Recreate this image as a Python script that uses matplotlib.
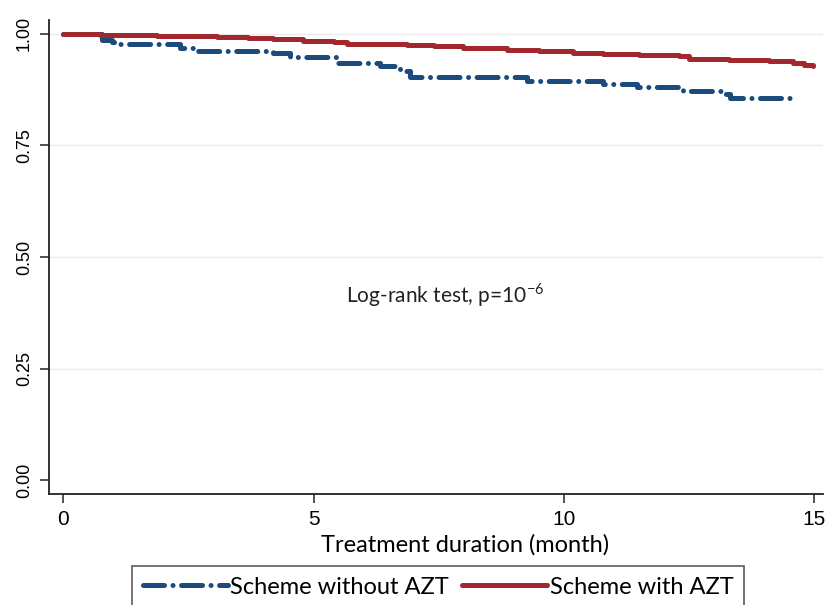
import matplotlib
matplotlib.use("Agg")
import matplotlib.pyplot as plt
import numpy as np

# Data (Kaplan-Meier step curves)
t_without = [0, 0.78, 0.98, 1.14, 2.34, 2.67, 4.2, 4.53, 5.47, 6.33, 6.73, 6.93,
             9.26, 10.78, 11.46, 12.38, 13.17, 13.31, 14.67]
s_without = [1.0, 0.987, 0.982, 0.977, 0.969, 0.962, 0.957, 0.947, 0.934, 0.928,
             0.916, 0.904, 0.895, 0.887, 0.880, 0.872, 0.865, 0.857, 0.857]

t_with = [0, 0.74, 1.88, 2.67, 3.07, 3.7, 4.2, 4.8, 5.4, 5.67, 6.3, 6.87, 7.4, 7.98,
          8.86, 9.5, 10.18, 10.78, 11.5, 12.3, 12.5, 13.3, 14.1, 14.57, 14.8, 14.97]
s_with = [1.0, 0.998, 0.996, 0.995, 0.993, 0.991, 0.988, 0.985, 0.982, 0.978, 0.977,
          0.975, 0.972, 0.968, 0.964, 0.961, 0.958, 0.955, 0.953, 0.951, 0.943, 0.942,
          0.940, 0.934, 0.931, 0.928]

xticks = [0, 5, 10, 15]
yticks = [0.00, 0.25, 0.50, 0.75, 1.00]
ytick_labels = ["0.00", "0.25", "0.50", "0.75", "1.00"]

blue = "#1b4a7c"
red = "#a3282e"

fig = plt.figure(figsize=(8.26, 6.05), dpi=100)
ax = fig.add_axes([49 / 826, 111 / 605, (823 - 49) / 826, (494 - 20) / 605])

for y in [0.25, 0.5, 0.75, 1.0]:
    ax.axhline(y, color="#ebebeb", lw=1.0, zorder=0)

l1, = ax.step(t_without, s_without, where="post", color=blue, lw=3.6,
              dashes=[4.2, 1.7, 0.01, 1.7], dash_capstyle="round",
              label="Scheme without AZT", zorder=3)
l2, = ax.step(t_with, s_with, where="post", color=red, lw=3.6,
              label="Scheme with AZT", zorder=3, solid_capstyle="round")

ax.set_xlim(-0.28, 15.17)
ax.set_ylim(-0.031, 1.031)
ax.set_xticks(xticks)
ax.set_xticklabels([str(x) for x in xticks], fontfamily="Liberation Sans", fontsize=15)
ax.set_yticks(yticks)
ax.set_yticklabels(ytick_labels, rotation=90, va="center",
                   fontfamily="Liberation Sans", fontsize=13)
ax.tick_params(direction="out", length=6.5, width=1.2, color="#333333")
ax.tick_params(axis="x", pad=5)
ax.tick_params(axis="y", pad=5)
for s in ["top", "right"]:
    ax.spines[s].set_visible(False)
for s in ["left", "bottom"]:
    ax.spines[s].set_linewidth(1.3)
    ax.spines[s].set_color("#222222")

ax.set_xlabel("Treatment duration (month)", fontfamily="Lato", fontsize=17, labelpad=3)
ax.xaxis.set_label_coords(0.537, -0.085)

ax.text(7.62, 0.415, r"Log-rank test, p=10$^{\mathregular{-6}}$", ha="center", va="center",
        fontfamily="Lato", fontsize=15, color="#222222")

leg = fig.legend(handles=[l1, l2], loc="upper left",
                 bbox_to_anchor=(132 / 826, 1 - 566 / 605), ncol=2,
                 frameon=True, fancybox=False, edgecolor="#333333",
                 prop={"family": "Lato", "size": 17}, handlelength=3.6,
                 handletextpad=0.12, columnspacing=0.55, borderpad=0.45,
                 borderaxespad=0)
leg.get_frame().set_linewidth(1.2)

fig.savefig("out.png", dpi=100)
